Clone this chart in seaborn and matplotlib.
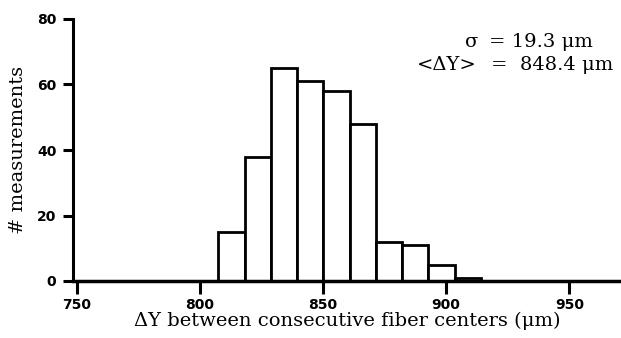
import numpy as np
import pandas as pd
import seaborn as sns
import matplotlib
matplotlib.use("Agg")
import matplotlib.pyplot as plt

# data
bin_edges = [807.5, 818.2, 828.8, 839.5, 850.1, 860.8, 871.4, 882.1, 892.7, 903.4, 914.0]
counts = [15, 38, 65, 61, 58, 48, 12, 11, 5, 1]
x_ticks = [750, 800, 850, 900, 950]
y_ticks = [0, 20, 40, 60, 80]
x_label = "\u0394Y between consecutive fiber centers (\u03bcm)"
y_label = "# measurements"
sigma_text = "= 19.3 \u03bcm"
mean_text = "=  848.4 \u03bcm"

centers = [(a + b) / 2 for a, b in zip(bin_edges[:-1], bin_edges[1:])]
df = pd.DataFrame({"dy": centers, "n": counts})

sns.set_style("ticks", {"text.color": "black", "axes.labelcolor": "black",
                        "xtick.color": "black", "ytick.color": "black",
                        "axes.edgecolor": "black"})
W, H = 621, 338
fig = plt.figure(figsize=(W / 100, H / 100), dpi=100)
ax = fig.add_axes([73 / W, 1 - 281 / H, 1 - 73 / W, (281 - 19) / H])

sns.histplot(data=df, x="dy", weights="n", bins=bin_edges, ax=ax,
             color="white", edgecolor="black", linewidth=2.0, alpha=1.0)

ax.set_xlim(748.5, 971)
ax.set_ylim(0, 80)
ax.spines["top"].set_visible(False)
ax.spines["right"].set_visible(False)
ax.spines["left"].set_linewidth(2.2)
ax.spines["bottom"].set_linewidth(2.5)
ax.set_xticks(x_ticks)
ax.set_yticks(y_ticks)
ax.tick_params(axis="x", direction="out", length=9, width=2.2, color="black",
               labelcolor="black", labelsize=10, pad=3)
ax.tick_params(axis="y", direction="out", length=7, width=2.2, color="black",
               labelcolor="black", labelsize=10, pad=5)
for lab in ax.get_xticklabels() + ax.get_yticklabels():
    lab.set_fontweight("bold")
    lab.set_family("DejaVu Sans")

serif = "DejaVu Serif"
fs = 14
ax.set_xlabel(x_label, fontsize=fs, family=serif, labelpad=0, color="black")
ax.set_ylabel(y_label, fontsize=fs, family=serif, labelpad=7, color="black")

fig.text(478 / W, 1 - 42 / H, "\u03c3", ha="right", va="center", fontsize=fs, family=serif, color="black")
fig.text(489 / W, 1 - 42 / H, sigma_text, ha="left", va="center", fontsize=fs, family=serif, color="black")
fig.text(477 / W, 1 - 65 / H, "<\u0394Y>", ha="right", va="center", fontsize=fs, family=serif, color="black")
fig.text(491 / W, 1 - 65 / H, mean_text, ha="left", va="center", fontsize=fs, family=serif, color="black")

fig.savefig("out.png", dpi=100)
